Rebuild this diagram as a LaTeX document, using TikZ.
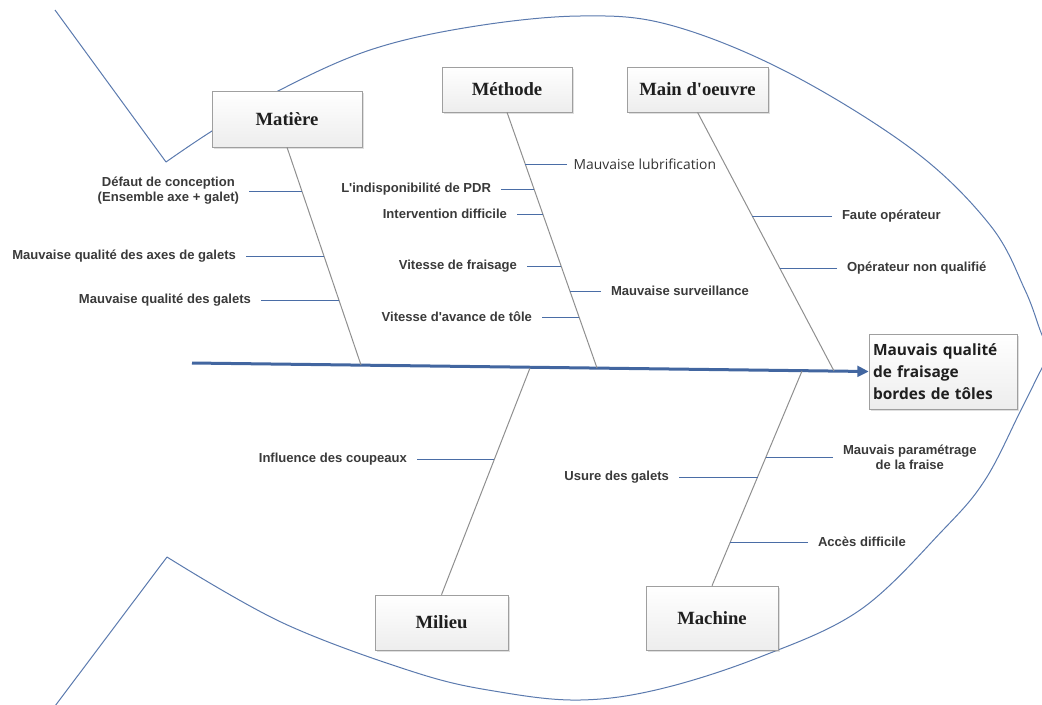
\documentclass[tikz,border=0pt]{standalone}
\usepackage{fontspec}
\setmainfont{Liberation Sans}
\newfontfamily\boxfont{Liberation Serif}
\newfontfamily\segoe{Open Sans}
\usetikzlibrary{arrows.meta,shadows,calc}
\definecolor{outl}{HTML}{5B7AAE}
\definecolor{spinec}{HTML}{4266A0}
\definecolor{subc}{HTML}{4A6DA6}
\definecolor{bonec}{HTML}{8F8F8F}
\definecolor{txt}{HTML}{3A3A3A}
\newcommand\sq{\textquotesingle}
\begin{document}
\begin{tikzpicture}[x=0.75pt,y=-0.75pt,
  outline/.style={draw=outl, line width=0.75pt},
  spine/.style={draw=spinec, line width=2.25pt, -{Triangle[length=8.5pt,width=8pt]}},
  bone/.style={draw=bonec, line width=0.75pt},
  sub/.style={draw=subc, line width=0.75pt},
  lab/.style={font=\bfseries\fontsize{9.8}{11.25}\selectfont, text=txt, inner sep=0pt, outer xsep=7.5pt, outer ysep=0pt, align=center},
  labs/.style={font=\segoe\fontsize{10.4}{12}\selectfont, text=black!80, inner sep=0pt, outer xsep=5pt, outer ysep=0pt},
  cat/.style={draw=gray!75, top color=white, bottom color=gray!14, inner sep=0pt,
    font=\boxfont\bfseries\fontsize{14}{16}\selectfont, text=black!88,
    drop shadow={shadow xshift=1.2pt, shadow yshift=-1.2pt, opacity=0.25, fill=gray}},
]
\useasboundingbox (0,0) rectangle (1042,704);
\clip (0,0) rectangle (1042,704);

% fish outline
\draw[outline] (55,10) -- (166,162);
\draw[outline] plot[smooth, tension=0.6] coordinates {(166,162) (212,131) (280,90) (370,50) (470,27) (580,16) (670,25) (787,72) (913,150) (990,225) (1025,290) (1042,335) (1052,352)};
\draw[outline] (55,706) -- (167,557);
\draw[outline] plot[smooth, tension=0.6] coordinates {(167,557) (283,623) (417,673) (500,692) (580,700) (660,689) (760,657) (860,610) (943,530) (985,480) (1020,412) (1042,368) (1052,352)};

% category boxes
\node[cat, minimum width=112.5pt, minimum height=42pt] (Mat) at (287,119) {Matière};
\node[cat, minimum width=97.5pt, minimum height=33.75pt] (Met) at (507,89.5) {Méthode};
\node[cat, minimum width=105.75pt, minimum height=33.75pt] (Mai) at (697.5,89.5) {Main d\sq oeuvre};
\node[cat, minimum width=99.75pt, minimum height=41.25pt] (Mil) at (441.5,622.5) {Milieu};
\node[cat, minimum width=99pt, minimum height=48pt] (Mac) at (712,618) {Machine};
\node[cat, font=\segoe\bfseries\fontsize{11.6}{16.5}\selectfont, align=left, text width=105pt,
  minimum width=111pt, minimum height=56.25pt] (E) at (943,371.5) {Mauvais qualité\\de fraisage\\bordes de tôles};

% spine
\coordinate (S) at (192,363);
\draw[spine] (S) -- (E.west);

% bone ends on spine
\coordinate (bMat) at (361,365);
\coordinate (bMet) at (597,368);
\coordinate (bMai) at (834,371);
\coordinate (bMil) at (530,368);
\coordinate (bMac) at (802,371);
\draw[bone] (Mat.south) -- (bMat);
\draw[bone] (Met.south) -- (bMet);
\draw[bone] (Mai.south) -- (bMai);
\draw[bone] (Mil.north) -- (bMil);
\draw[bone] (Mac.north) -- (bMac);

% Matiere causes
\coordinate (a1) at (302,191);
\coordinate (a2) at (324,256);
\coordinate (a3) at (339,300);
\node[lab, anchor=east] (l1) at (249,191) {Défaut de conception\\(Ensemble axe + galet)};
\node[lab, anchor=east] (l2) at (246,256) {Mauvaise qualité des axes de galets};
\node[lab, anchor=east] (l3) at (261,300) {Mauvaise qualité des galets};
\draw[sub] (l1) -- (a1);
\draw[sub] (l2) -- (a2);
\draw[sub] (l3) -- (a3);

% Methode causes
\coordinate (b1) at (525,164);
\coordinate (b2) at (534,189);
\coordinate (b3) at (543,214);
\coordinate (b4) at (561,266);
\coordinate (b5) at (570,291);
\coordinate (b6) at (579,317);
\node[labs, anchor=west] (m1) at (567,164) {Mauvaise lubrification};
\node[lab, anchor=east] (m2) at (501,189) {L\sq indisponibilité de PDR};
\node[lab, anchor=east] (m3) at (517,214) {Intervention difficile};
\node[lab, anchor=east] (m4) at (527,266) {Vitesse de fraisage};
\node[lab, anchor=west] (m5) at (601,291) {Mauvaise surveillance};
\node[lab, anchor=east] (m6) at (542,317) {Vitesse d\sq avance de tôle};
\draw[sub] (m1) -- (b1);
\draw[sub] (m2) -- (b2);
\draw[sub] (m3) -- (b3);
\draw[sub] (m4) -- (b4);
\draw[sub] (m5) -- (b5);
\draw[sub] (m6) -- (b6);

% Main d'oeuvre causes
\coordinate (c1) at (752,216);
\coordinate (c2) at (780,268);
\node[lab, anchor=west] (o1) at (832,216) {Faute opérateur};
\node[lab, anchor=west] (o2) at (837,268) {Opérateur non qualifié};
\draw[sub] (o1) -- (c1);
\draw[sub] (o2) -- (c2);

% Milieu causes
\coordinate (d1) at (494,459);
\node[lab, anchor=east] (i1) at (417,459) {Influence des coupeaux};
\draw[sub] (i1) -- (d1);

% Machine causes
\coordinate (e1) at (766,457);
\coordinate (e2) at (758,477);
\coordinate (e3) at (730,542);
\node[lab, anchor=west] (k1) at (833,457) {Mauvais paramétrage\\de la fraise};
\node[lab, anchor=east] (k2) at (679,477) {Usure des galets};
\node[lab, anchor=west] (k3) at (808,542) {Accès difficile};
\draw[sub] (k1) -- (e1);
\draw[sub] (k2) -- (e2);
\draw[sub] (k3) -- (e3);
\end{tikzpicture}
\end{document}
